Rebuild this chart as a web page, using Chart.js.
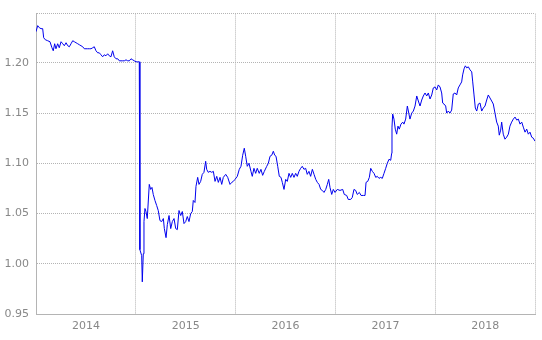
<!DOCTYPE html>
<html>
<head>
<meta charset="utf-8">
<script src="https://cdn.jsdelivr.net/npm/chart.js@4/dist/chart.umd.min.js"></script>
<style>
  html, body { margin: 0; padding: 0; background: #fff; }
  #wrap { width: 542px; height: 340px; }
</style>
</head>
<body>
<div id="wrap"><canvas id="myChart"></canvas></div>
<script>
// EUR/CHF kurs, waktu dalam tahun desimal
const years = [
  2014.000, 2014.017, 2014.033, 2014.050, 2014.067, 2014.077, 2014.093, 2014.117, 2014.140, 2014.160,
  2014.173, 2014.187, 2014.200, 2014.217, 2014.233, 2014.251, 2014.268, 2014.284, 2014.301, 2014.318,
  2014.334, 2014.351, 2014.368, 2014.384, 2014.401, 2014.418, 2014.434, 2014.451, 2014.468, 2014.484,
  2014.501, 2014.518, 2014.534, 2014.551, 2014.568, 2014.584, 2014.601, 2014.618, 2014.634, 2014.651,
  2014.668, 2014.684, 2014.701, 2014.718, 2014.734, 2014.751, 2014.768, 2014.784, 2014.802, 2014.819,
  2014.835, 2014.852, 2014.869, 2014.885, 2014.902, 2014.919, 2014.935, 2014.952, 2014.969, 2014.985,
  2015.002, 2015.019, 2015.035, 2015.040, 2015.042, 2015.059, 2015.065, 2015.075, 2015.082, 2015.092,
  2015.102, 2015.115, 2015.135, 2015.149, 2015.162, 2015.175, 2015.192, 2015.209, 2015.225, 2015.242,
  2015.259, 2015.276, 2015.286, 2015.303, 2015.316, 2015.333, 2015.350, 2015.366, 2015.383, 2015.400,
  2015.416, 2015.433, 2015.450, 2015.466, 2015.483, 2015.500, 2015.516, 2015.533, 2015.550, 2015.566,
  2015.576, 2015.593, 2015.603, 2015.620, 2015.633, 2015.650, 2015.666, 2015.683, 2015.700, 2015.710,
  2015.726, 2015.743, 2015.761, 2015.777, 2015.794, 2015.811, 2015.827, 2015.844, 2015.861, 2015.877,
  2015.901, 2015.921, 2015.944, 2015.961, 2015.977, 2015.994,
  2016.017, 2016.037, 2016.054, 2016.071, 2016.087, 2016.101, 2016.117, 2016.134, 2016.154, 2016.167,
  2016.184, 2016.201, 2016.217, 2016.237, 2016.254, 2016.271, 2016.288, 2016.312, 2016.328, 2016.345,
  2016.362, 2016.378, 2016.392, 2016.405, 2016.422, 2016.438, 2016.455, 2016.468, 2016.485, 2016.502,
  2016.518, 2016.535, 2016.552, 2016.568, 2016.585, 2016.602, 2016.618, 2016.635, 2016.652, 2016.668,
  2016.685, 2016.702, 2016.718, 2016.735, 2016.752, 2016.769, 2016.786, 2016.803, 2016.819, 2016.836,
  2016.853, 2016.869, 2016.886, 2016.903, 2016.919, 2016.933, 2016.946, 2016.963, 2016.979, 2016.996,
  2017.019, 2017.046, 2017.073, 2017.089, 2017.113, 2017.129, 2017.153, 2017.169, 2017.186, 2017.203,
  2017.219, 2017.240, 2017.257, 2017.280, 2017.297, 2017.307, 2017.324, 2017.340, 2017.354, 2017.370,
  2017.387, 2017.404, 2017.420, 2017.437, 2017.454, 2017.470, 2017.487, 2017.504, 2017.520, 2017.537,
  2017.554, 2017.564, 2017.567, 2017.574, 2017.587, 2017.600, 2017.614, 2017.627, 2017.640, 2017.657,
  2017.675, 2017.687, 2017.704, 2017.721, 2017.735, 2017.747, 2017.765, 2017.781, 2017.798, 2017.815,
  2017.831, 2017.848, 2017.865, 2017.881, 2017.898, 2017.915, 2017.931, 2017.948, 2017.965, 2017.981,
  2017.998,
  2018.015, 2018.031, 2018.048, 2018.065, 2018.075, 2018.088, 2018.105, 2018.115, 2018.131, 2018.148,
  2018.165, 2018.181, 2018.198, 2018.215, 2018.231, 2018.248, 2018.265, 2018.275, 2018.289, 2018.302,
  2018.316, 2018.332, 2018.349, 2018.366, 2018.376, 2018.389, 2018.402, 2018.416, 2018.432, 2018.449,
  2018.466, 2018.482, 2018.499, 2018.516, 2018.532, 2018.549, 2018.566, 2018.582, 2018.599, 2018.616,
  2018.632, 2018.642, 2018.656, 2018.666, 2018.682, 2018.699, 2018.716, 2018.733, 2018.749, 2018.766,
  2018.783, 2018.800, 2018.817, 2018.833, 2018.850, 2018.867, 2018.883, 2018.900, 2018.917, 2018.933,
  2018.950, 2018.967, 2018.983, 2019.000
];
const rates = [
  1.231, 1.237, 1.235, 1.234, 1.234, 1.225, 1.223, 1.222, 1.221, 1.215,
  1.212, 1.219, 1.214, 1.219, 1.215, 1.221, 1.219, 1.217, 1.220, 1.217,
  1.216, 1.219, 1.222, 1.221, 1.220, 1.219, 1.218, 1.217, 1.216, 1.214,
  1.214, 1.214, 1.214, 1.214, 1.215, 1.216, 1.212, 1.210, 1.210, 1.208,
  1.206, 1.208, 1.207, 1.209, 1.207, 1.206, 1.212, 1.206, 1.204, 1.204,
  1.202, 1.202, 1.202, 1.202, 1.203, 1.202, 1.202, 1.204, 1.203, 1.202,
  1.201, 1.201, 1.201, 1.201, 1.014, 1.008, 0.982, 1.010, 1.042, 1.055,
  1.052, 1.045, 1.079, 1.074, 1.076, 1.069, 1.063, 1.058, 1.053, 1.043,
  1.042, 1.045, 1.035, 1.026, 1.039, 1.048, 1.035, 1.042, 1.045, 1.035,
  1.034, 1.053, 1.048, 1.052, 1.040, 1.042, 1.047, 1.042, 1.050, 1.052,
  1.063, 1.061, 1.077, 1.086, 1.079, 1.082, 1.089, 1.091, 1.102, 1.094,
  1.091, 1.092, 1.091, 1.092, 1.082, 1.087, 1.081, 1.086, 1.079, 1.086,
  1.089, 1.086, 1.079, 1.081, 1.082, 1.084,
  1.087, 1.094, 1.097, 1.108, 1.115, 1.107, 1.097, 1.100, 1.092, 1.087,
  1.095, 1.090, 1.095, 1.090, 1.094, 1.088, 1.092, 1.097, 1.100, 1.107,
  1.108, 1.112, 1.108, 1.107, 1.097, 1.087, 1.086, 1.081, 1.074, 1.084,
  1.082, 1.090, 1.086, 1.090, 1.086, 1.090, 1.087, 1.092, 1.095, 1.097,
  1.094, 1.095, 1.089, 1.092, 1.087, 1.094, 1.089, 1.084, 1.081, 1.079,
  1.074, 1.073, 1.071, 1.074, 1.079, 1.084, 1.076, 1.069, 1.074, 1.071,
  1.074, 1.073, 1.074, 1.069, 1.068, 1.064, 1.064, 1.066, 1.074, 1.073,
  1.069, 1.071, 1.068, 1.068, 1.068, 1.081, 1.082, 1.086, 1.095, 1.092,
  1.090, 1.086, 1.087, 1.085, 1.086, 1.085, 1.090, 1.095, 1.100, 1.104,
  1.103, 1.110, 1.136, 1.149, 1.144, 1.134, 1.129, 1.137, 1.134, 1.139,
  1.141, 1.139, 1.144, 1.157, 1.150, 1.144, 1.150, 1.152, 1.157, 1.167,
  1.162, 1.157, 1.163, 1.167, 1.170, 1.167, 1.170, 1.164, 1.168, 1.175,
  1.176,
  1.173, 1.178, 1.176, 1.170, 1.160, 1.159, 1.157, 1.150, 1.152, 1.150,
  1.153, 1.169, 1.170, 1.168, 1.175, 1.178, 1.181, 1.188, 1.194, 1.197,
  1.195, 1.196, 1.193, 1.191, 1.181, 1.168, 1.155, 1.152, 1.159, 1.160,
  1.152, 1.155, 1.157, 1.163, 1.168, 1.165, 1.162, 1.159, 1.150, 1.141,
  1.137, 1.128, 1.133, 1.141, 1.129, 1.124, 1.126, 1.129, 1.137, 1.141,
  1.144, 1.146, 1.143, 1.144, 1.139, 1.141, 1.136, 1.131, 1.134, 1.129,
  1.131, 1.126, 1.125, 1.122
];
const yearTicks = [2014, 2015, 2016, 2017, 2018];
const rateTicks = [0.95, 1.0, 1.05, 1.1, 1.15, 1.2];

const gridColor = "#b4b4b4";
const ctx = document.getElementById("myChart");

new Chart(ctx, {
  type: "line",
  data: {
    datasets: [
      {
        data: years.map((t, i) => ({ x: t, y: rates[i] })),
        borderColor: "#0000ee",
        borderWidth: 1,
        pointRadius: 0,
        tension: 0,
        fill: false,
      },
    ],
  },
  options: {
    responsive: true,
    maintainAspectRatio: false,
    animation: false,
    layout: { padding: { top: 7, right: 7, bottom: 0, left: 0 } },
    plugins: {
      legend: { display: false },
      tooltip: { enabled: false },
    },
    scales: {
      x: {
        type: "linear",
        min: 2014,
        max: 2019,
        // garis grid di awal tahun, label di tengah tahun
        afterBuildTicks: (scale) => {
          scale.ticks = yearTicks.concat([2019]).map((v) => ({ value: v }));
        },
        afterFit: (scale) => {
          scale.height = 26;
        },
        grid: { color: gridColor, drawTicks: false },
        border: { color: gridColor, dash: [1, 1] },
        ticks: {
          padding: 6,
          labelOffset: 50,
          maxRotation: 0,
          autoSkip: false,
          color: "#888",
          font: { family: "DejaVu Sans", size: 11 },
          callback: (v) => (yearTicks.includes(v) ? String(v) : ""),
        },
      },
      y: {
        min: 0.95,
        max: 1.249,
        // tambah tick di batas atas supaya ada garis tepi atas
        afterBuildTicks: (scale) => {
          scale.ticks = rateTicks.concat([1.249]).map((v) => ({ value: v }));
        },
        afterFit: (scale) => {
          scale.width = 36;
        },
        grid: { color: gridColor, drawTicks: false },
        border: { color: gridColor, dash: [1, 1] },
        ticks: {
          padding: 7,
          color: "#888",
          font: { family: "DejaVu Sans", size: 11 },
          callback: (v) => (rateTicks.includes(v) ? v.toFixed(2) : ""),
        },
      },
    },
  },
});
</script>
</body>
</html>
